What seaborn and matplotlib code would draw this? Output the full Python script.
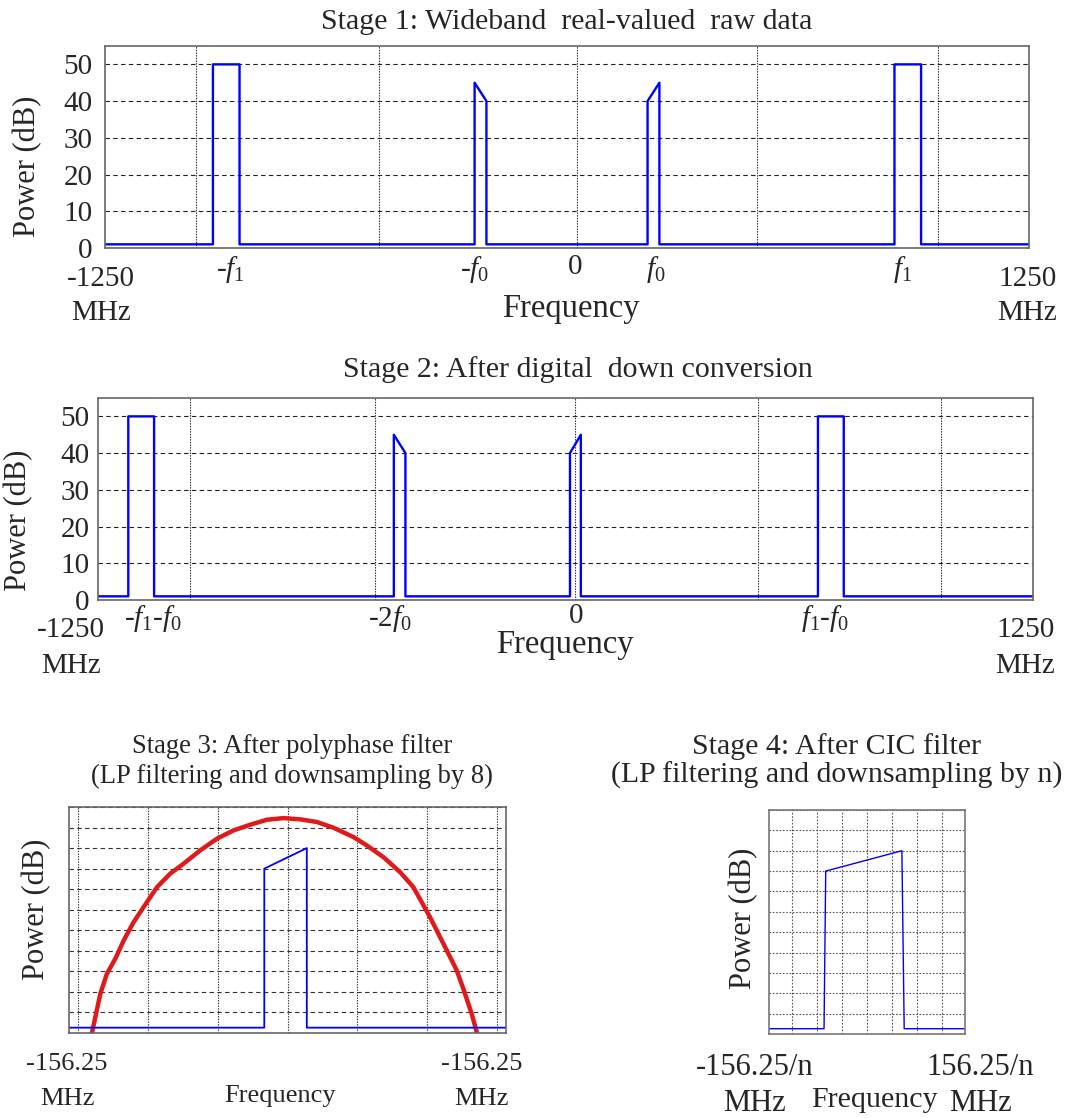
import matplotlib
matplotlib.use("Agg")
import matplotlib.pyplot as plt
import seaborn as sns

# ---- data (MHz / dB) ----
# stage 1: wideband real-valued raw data
s1_freq = [-1250, -958, -958, -886, -886, -250, -250, -218, -218,
           218, 218, 250, 250, 886, 886, 958, 958, 1250]
s1_power = [1, 1, 50, 50, 1, 1, 45, 40, 1, 1, 40, 45, 1, 1, 50, 50, 1, 1]
s1_tick_pos = [-912, -250, 22, 239, 909]
s1_tick_lab = [r'-$f_1$', r'-$f_0$', '0', r'$f_0$', r'$f_1$']

# stage 2: after digital down conversion
s2_freq = [-1250, -1169, -1169, -1100, -1100, -459, -459, -428, -428,
           12, 12, 41, 41, 675, 675, 744, 744, 1250]
s2_power = [1, 1, 50, 50, 1, 1, 45, 40, 1, 1, 40, 45, 1, 1, 50, 50, 1, 1]
s2_tick_pos = [-1104, -470, 28, 694]
s2_tick_lab = [r'-$f_1$-$f_0$', r'-2$f_0$', '0', r'$f_1$-$f_0$']

wide_grid = [-1003, -510, 26, 515, 1005]
wide_yticks = [0, 10, 20, 30, 40, 50]

# stage 3: after polyphase filter
s3_freq = [-156.25, -16.6, -16.6, 13.8, 13.8, 156.25]
s3_power = [2.6, 2.6, 80, 90, 2.6, 2.6]
filt_freq = [-139.7, -137.4, -133.8, -129.1, -123.1, -117.1, -110, -102.9, -93.3,
             -83.8, -74.3, -62.4, -50.4, -38.6, -26.6, -14.7, -2.9, 9.1, 21,
             32.9, 47.1, 56.7, 68.6, 80.5, 90, 101.9, 113.9, 121, 125.7, 131.7, 135.3]
filt_power = [0.5, 7.8, 19.2, 28.9, 36.2, 45.1, 54, 61.3, 71, 77.6, 82.4, 88.9,
              94.6, 98.6, 101.4, 103.8, 104.6, 104, 102.7, 99.9, 95.4, 91.3,
              85.6, 78.3, 71, 56.4, 40.2, 30.5, 21.6, 9.4, 0.5]
s3_grid = [-150, -100, -50, 0, 50, 100, 150]

# stage 4: after CIC filter
s4_freq = [-156.25, -68.5, -65.8, 55.6, 59.3, 156.25]
s4_power = [2.6, 2.6, 80, 90, 2.6, 2.6]
s4_grid = [-120, -80, -40, 0, 40, 80, 120]

narrow_yticks = list(range(0, 111, 10))

sns.set_style("white")
plt.rcParams['font.family'] = ['Liberation Serif', 'DejaVu Serif']
plt.rcParams['mathtext.fontset'] = 'custom'
plt.rcParams['mathtext.rm'] = 'Liberation Serif'
plt.rcParams['mathtext.it'] = 'Liberation Serif:italic'
plt.rcParams['font.size'] = 21

W, H = 1084, 1118
fig = plt.figure(figsize=(W / 100, H / 100), dpi=100)


def px_axes(x0, y0, x1, y1):
    return fig.add_axes([x0 / W, 1 - y1 / H, (x1 - x0) / W, (y1 - y0) / H])


def style_axes(ax, hstyle, vstyle, gcolor, spine='#666666', fs=21):
    for s in ax.spines.values():
        s.set_color(spine)
        s.set_linewidth(1.2)
    ax.grid(True, which='major', axis='y', color=gcolor, linestyle=hstyle, linewidth=0.8)
    ax.grid(True, which='major', axis='x', color=gcolor, linestyle=vstyle, linewidth=0.8)
    ax.grid(False, which='minor')
    ax.tick_params(which='both', length=0, labelsize=fs)
    ax.set_axisbelow(True)


def end_labels(ax, xl, xr, y, ltxt, rtxt, fs, ls):
    tr = ax.get_xaxis_transform()
    ax.text(xl, y, ltxt, transform=tr, ha='center', va='top', fontsize=fs, linespacing=ls)
    ax.text(xr, y, rtxt, transform=tr, ha='center', va='top', fontsize=fs, linespacing=ls)


BLUE = '#0000ff'
RED = '#e01a1a'

# ---------- stage 1 ----------
ax1 = px_axes(105, 46, 1029, 248)
sns.lineplot(x=s1_freq, y=s1_power, sort=False, estimator=None, color=BLUE, linewidth=1.7, ax=ax1)
ax1.set_xlim(-1250, 1250)
ax1.set_ylim(0, 55)
ax1.set_xticks(wide_grid, [''] * len(wide_grid))
ax1.set_xticks(s1_tick_pos, s1_tick_lab, minor=True)
ax1.set_yticks(wide_yticks)
style_axes(ax1, (0, (4, 3)), (0, (1.2, 1.2)), '#222222')
ax1.tick_params(axis='x', which='minor', pad=4)
ax1.tick_params(axis='y', pad=9)
ax1.set_title('Stage 1: Wideband  real-valued  raw data', pad=12, fontsize=21.5)
ax1.set_ylabel('Power (dB)', fontsize=22)
ax1.yaxis.set_label_coords(-0.068, 0.406)
ax1.set_xlabel('Frequency', fontsize=23.5)
ax1.xaxis.set_label_coords(0.504, -0.225)
end_labels(ax1, -1261, 1245, -0.09, '-1250\nMHz', '1250\nMHz', 21, 1.39)

# ---------- stage 2 ----------
ax2 = px_axes(98, 398, 1033, 600)
sns.lineplot(x=s2_freq, y=s2_power, sort=False, estimator=None, color=BLUE, linewidth=1.7, ax=ax2)
ax2.set_xlim(-1250, 1250)
ax2.set_ylim(0, 55)
ax2.set_xticks(wide_grid, [''] * len(wide_grid))
ax2.set_xticks(s2_tick_pos, s2_tick_lab, minor=True)
ax2.set_yticks(wide_yticks)
style_axes(ax2, (0, (4, 3)), (0, (1.2, 1.2)), '#222222')
ax2.tick_params(axis='x', which='minor', pad=2)
ax2.tick_params(axis='y', pad=6)
ax2.set_title('Stage 2: After digital  down conversion', pad=15, fontsize=21.5, x=0.513)
ax2.set_ylabel('Power (dB)', fontsize=22)
ax2.yaxis.set_label_coords(-0.0695, 0.396)
ax2.set_xlabel('Frequency', fontsize=23.5)
ax2.xaxis.set_label_coords(0.4995, -0.145)
end_labels(ax2, -1323, 1229, -0.085, '-1250\nMHz', '1250\nMHz', 21, 1.47)

# ---------- stage 3 ----------
ax3 = px_axes(69, 807, 506, 1033)
sns.lineplot(x=filt_freq, y=filt_power, sort=False, estimator=None, color=RED, linewidth=3.2, ax=ax3)
sns.lineplot(x=s3_freq, y=s3_power, sort=False, estimator=None, color=BLUE, linewidth=1.3, ax=ax3)
ax3.set_xlim(-156.25, 156.25)
ax3.set_ylim(0, 110)
ax3.set_xticks(s3_grid, [''] * len(s3_grid))
ax3.set_xticks([0], ['0'], minor=True)
ax3.set_yticks(narrow_yticks, [''] * len(narrow_yticks))
style_axes(ax3, (0, (4, 3)), (0, (1.2, 1.2)), '#333333', fs=19)
ax3.tick_params(axis='x', which='minor', pad=14)
ax3.set_title('Stage 3: After polyphase filter\n(LP filtering and downsampling by 8)',
              pad=17, fontsize=19.2, x=0.51, linespacing=1.25)
ax3.set_ylabel('Power (dB)', fontsize=22)
ax3.yaxis.set_label_coords(-0.0396, 0.549)
ax3.set_xlabel('Frequency', fontsize=19)
ax3.xaxis.set_label_coords(0.483, -0.232)
end_labels(ax3, -157.6, 139, -0.09, '-156.25\nMHz', '-156.25\nMHz', 19, 1.75)

# ---------- stage 4 ----------
ax4 = px_axes(769, 810, 965, 1034)
sns.lineplot(x=s4_freq, y=s4_power, sort=False, estimator=None, color=BLUE, linewidth=1.0, ax=ax4)
ax4.set_xlim(-156.25, 156.25)
ax4.set_ylim(0, 110)
ax4.set_xticks(s4_grid, [''] * len(s4_grid))
ax4.set_xticks([0], ['0'], minor=True)
ax4.set_yticks(narrow_yticks, [''] * len(narrow_yticks))
style_axes(ax4, (0, (1.5, 1.5)), (0, (1.5, 1.5)), '#555555', spine='#777777', fs=22)
ax4.tick_params(axis='x', which='minor', pad=15)
ax4.set_title('Stage 4: After CIC filter\n(LP filtering and downsampling by n)',
              pad=20, fontsize=21.5, x=0.345, linespacing=1.08)
ax4.set_ylabel('Power (dB)', fontsize=22)
ax4.yaxis.set_label_coords(-0.056, 0.518)
ax4.set_xlabel('Frequency', fontsize=21.6)
ax4.xaxis.set_label_coords(0.536, -0.238)
end_labels(ax4, -179, 181, -0.086, '-156.25/n\nMHz', '156.25/n\nMHz', 22, 1.29)

fig.savefig('out.png', dpi=100)
